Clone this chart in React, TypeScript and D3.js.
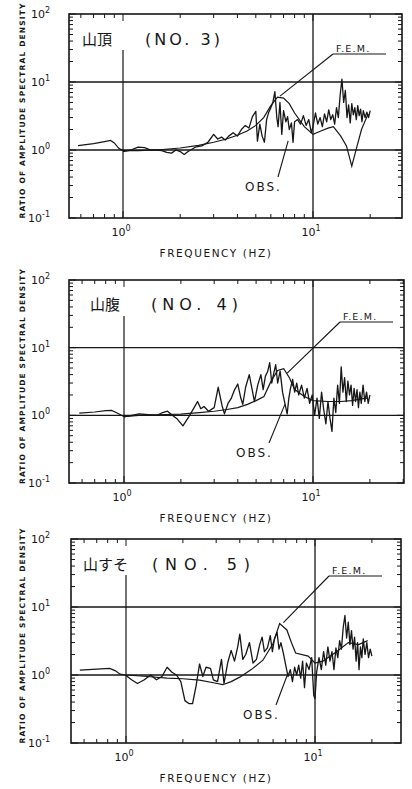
import React from "react";
import * as d3 from "d3";

type Pt = [number, number];

// frequency (Hz), ratio of amplitude spectral density
const fem3: Pt[] = [
  [0.58, 1.16], [0.7, 1.24], [0.8, 1.33], [0.86, 1.38], [0.9, 1.27], [0.95, 1.06],
  [1.0, 0.98], [1.2, 0.98], [1.5, 1.0], [2.0, 1.07], [2.5, 1.17], [3.0, 1.3],
  [3.5, 1.45], [4.0, 1.65], [4.5, 1.9], [5.0, 2.3], [5.5, 3.0], [6.0, 4.5],
  [6.5, 6.0], [7.0, 5.8], [7.5, 4.8], [8.0, 3.5], [9.0, 2.2], [10.0, 1.7],
  [11.0, 1.9], [12.0, 2.1], [12.8, 2.2], [14.0, 1.6], [15.0, 1.15], [16.0, 0.58],
  [17.0, 1.1], [18.0, 2.0], [19.5, 3.4],
];
const obs3: Pt[] = [
  [1.0, 0.95], [1.1, 1.0], [1.2, 1.1], [1.3, 1.08], [1.4, 1.0], [1.5, 1.0], [1.6, 0.98],
  [1.7, 0.92], [1.8, 0.9], [1.9, 1.0], [2.0, 0.95], [2.1, 0.86], [2.2, 0.95], [2.4, 1.1],
  [2.6, 1.15], [2.8, 1.3], [3.0, 1.7], [3.15, 1.45], [3.3, 1.55], [3.45, 1.4], [3.6, 1.6],
  [3.8, 1.8], [4.0, 1.6], [4.2, 2.0], [4.4, 2.3], [4.6, 2.1], [4.8, 3.1], [5.0, 3.7],
  [5.1, 1.35], [5.25, 2.4], [5.4, 1.6], [5.55, 1.3], [5.7, 2.8], [5.85, 3.6], [6.0, 4.2],
  [6.15, 5.0], [6.3, 7.2], [6.45, 3.0], [6.55, 2.2], [6.7, 5.0], [6.85, 1.7], [7.0, 3.8],
  [7.2, 2.6], [7.35, 3.1], [7.5, 2.0], [7.7, 2.5], [7.85, 1.3], [8.0, 2.6], [8.3, 2.8],
  [8.6, 2.4], [8.9, 3.2], [9.2, 2.3], [9.5, 2.8], [9.8, 1.8], [10.0, 2.2], [10.3, 3.5],
  [10.6, 2.4], [10.9, 3.0], [11.2, 2.2], [11.5, 3.4], [11.8, 2.6], [12.1, 3.9], [12.4, 2.8],
  [12.7, 3.3], [13.0, 2.4], [13.3, 4.2], [13.6, 3.0], [13.9, 6.5], [14.2, 11.0], [14.5, 5.0],
  [14.8, 7.5], [15.1, 3.0], [15.4, 4.6], [15.7, 2.5], [16.0, 4.8], [16.3, 3.3], [16.6, 4.2],
  [16.9, 2.8], [17.2, 4.5], [17.5, 3.2], [17.8, 4.0], [18.1, 2.6], [18.4, 3.8], [18.8, 3.0],
  [19.2, 3.6], [19.6, 3.0], [20.0, 3.8],
];

const fem4: Pt[] = [
  [0.58, 1.08], [0.7, 1.12], [0.8, 1.17], [0.86, 1.18], [0.92, 1.08], [1.0, 0.96],
  [1.2, 1.0], [1.5, 1.02], [2.0, 1.04], [2.5, 1.1], [3.0, 1.15], [3.5, 1.22],
  [4.0, 1.3], [4.5, 1.45], [5.0, 1.65], [5.5, 1.9], [6.0, 3.2], [6.5, 4.6],
  [7.0, 4.9], [7.5, 3.6], [8.0, 2.4], [9.0, 1.9], [10.0, 1.65], [12.0, 1.6],
  [14.0, 1.6], [16.0, 1.65], [18.0, 1.75], [19.5, 1.8],
];
const obs4: Pt[] = [
  [1.0, 0.95], [1.1, 1.0], [1.2, 1.05], [1.35, 1.02], [1.5, 1.0], [1.6, 1.1], [1.7, 1.15],
  [1.8, 1.0], [1.9, 0.9], [2.05, 0.7], [2.2, 0.95], [2.35, 1.3], [2.45, 1.6], [2.55, 1.25],
  [2.65, 1.35], [2.8, 1.15], [3.0, 1.3], [3.15, 2.6], [3.3, 1.4], [3.4, 1.05], [3.55, 1.5],
  [3.7, 1.8], [3.85, 2.4], [4.0, 2.9], [4.15, 1.8], [4.25, 1.45], [4.4, 2.6], [4.6, 4.0],
  [4.75, 2.5], [4.9, 1.6], [5.1, 2.8], [5.3, 4.0], [5.45, 2.4], [5.6, 3.8], [5.75, 4.4],
  [5.9, 6.0], [6.05, 3.0], [6.2, 4.2], [6.35, 5.6], [6.5, 3.0], [6.7, 4.5], [6.9, 2.2],
  [7.1, 1.5], [7.3, 1.05], [7.45, 1.8], [7.6, 2.5], [7.8, 3.4], [8.0, 2.2], [8.2, 3.0],
  [8.4, 2.0], [8.7, 2.8], [9.0, 1.8], [9.3, 2.5], [9.6, 1.5], [9.9, 2.0], [10.2, 1.0],
  [10.5, 1.8], [10.8, 0.9], [11.1, 2.2], [11.4, 1.2], [11.7, 0.75], [12.0, 1.6], [12.3, 0.9],
  [12.6, 0.58], [12.9, 1.8], [13.2, 1.1], [13.5, 2.8], [13.8, 1.5], [14.1, 5.2], [14.4, 2.2],
  [14.7, 3.6], [15.0, 1.6], [15.3, 3.2], [15.6, 2.0], [15.9, 2.8], [16.2, 1.4], [16.5, 2.5],
  [16.8, 1.6], [17.1, 2.4], [17.4, 1.3], [17.7, 2.2], [18.0, 1.5], [18.4, 2.8], [18.8, 1.6],
  [19.2, 2.2], [19.6, 1.5], [20.0, 2.0],
];

const fem5: Pt[] = [
  [0.57, 1.18], [0.7, 1.22], [0.82, 1.25], [0.88, 1.15], [0.93, 1.03], [1.0, 1.0],
  [1.3, 0.95], [1.65, 0.9], [2.0, 0.88], [2.45, 0.84], [2.9, 0.77], [3.25, 0.72],
  [3.6, 0.8], [4.0, 0.93], [4.6, 1.2], [5.3, 1.65], [6.0, 2.9], [6.5, 5.7],
  [7.1, 4.6], [7.5, 3.0], [7.9, 2.1], [9.2, 1.9], [10.0, 1.5], [11.0, 1.6],
  [13.0, 2.2], [15.0, 3.0], [17.0, 2.8], [19.0, 3.2],
];
const obs5: Pt[] = [
  [1.0, 0.98], [1.07, 0.85], [1.15, 0.75], [1.25, 0.85], [1.35, 1.0], [1.45, 0.85], [1.55, 0.95],
  [1.65, 1.3], [1.75, 1.1], [1.85, 1.0], [1.95, 0.8], [2.05, 0.42], [2.15, 0.38], [2.25, 0.38],
  [2.35, 0.7], [2.45, 1.45], [2.55, 0.95], [2.65, 1.3], [2.8, 1.25], [2.9, 0.85], [3.05, 0.8],
  [3.2, 1.7], [3.3, 0.75], [3.45, 1.5], [3.6, 2.3], [3.75, 1.6], [3.9, 2.6], [4.0, 4.0],
  [4.15, 1.7], [4.3, 2.0], [4.5, 3.0], [4.7, 1.5], [4.9, 1.7], [5.1, 2.8], [5.25, 3.6],
  [5.4, 2.2], [5.6, 2.5], [5.8, 3.8], [5.95, 2.2], [6.1, 3.4], [6.3, 4.2], [6.45, 2.4],
  [6.6, 3.0], [6.8, 2.1], [7.0, 1.4], [7.2, 0.95], [7.4, 1.2], [7.6, 0.8], [7.8, 1.3],
  [8.0, 1.0], [8.2, 1.4], [8.4, 0.9], [8.6, 1.6], [8.8, 0.65], [9.0, 1.5], [9.3, 1.2],
  [9.6, 1.8], [9.85, 0.5], [10.0, 0.45], [10.2, 1.1], [10.5, 1.8], [10.8, 1.2], [11.1, 2.2],
  [11.4, 1.4], [11.7, 2.6], [12.0, 1.6], [12.3, 2.2], [12.6, 1.2], [12.9, 2.5], [13.2, 1.8],
  [13.5, 3.2], [13.8, 2.4], [14.1, 5.0], [14.4, 7.5], [14.7, 3.5], [15.0, 6.0], [15.3, 2.8],
  [15.6, 4.5], [15.9, 2.4], [16.2, 3.6], [16.5, 1.6], [16.8, 3.0], [17.1, 1.2], [17.4, 2.6],
  [17.7, 1.8], [18.0, 3.4], [18.4, 2.0], [18.8, 3.0], [19.2, 1.8], [19.6, 2.4], [20.0, 1.9],
];

const stationNames = ["山頂", "山腹", "山すそ"];
const stationNos = ["(NO. 3)", "(NO. 4)", "(NO. 5)"];
const femTips: Pt[] = [[6.7, 6.2], [7.3, 4.2], [6.8, 5.9]];
const obsTips: Pt[] = [[7.4, 1.36], [7.1, 1.45], [7.2, 1.07]];
const yTickExp = [2, 1, 0, -1];
const xTickExp = [0, 1];

const INK = "#161616";

type Layout = {
  top: number; bottom: number; left: number; right: number; x1: number; x10: number;
  nameX: number; noX: number; noLen: number; titleDy: number;
  femX: number; femDy: number; obsX: number; obsDy: number;
};

const layouts: Layout[] = [
  { top: 14, bottom: 218, left: 69, right: 402, x1: 123, x10: 313, nameX: 82, noX: 145, noLen: 75, titleDy: 31, femX: 333, femDy: 38, obsX: 245, obsDy: 163 },
  { top: 280, bottom: 483, left: 69, right: 404, x1: 124, x10: 313, nameX: 90, noX: 151, noLen: 87, titleDy: 30, femX: 340, femDy: 40, obsX: 236, obsDy: 163 },
  { top: 539, bottom: 743, left: 71, right: 401, x1: 126, x10: 315, nameX: 83, noX: 152, noLen: 98, titleDy: 31, femX: 329, femDy: 35, obsX: 243, obsDy: 166 },
];

function Panel({ i, fem, obs }: { i: number; fem: Pt[]; obs: Pt[] }) {
  const L = layouts[i];
  const x = d3.scaleLog().domain([1, 10]).range([L.x1, L.x10]);
  const y = d3.scaleLog().domain([0.1, 100]).range([L.bottom, L.top]);
  const xs = d3.scaleLog().domain([x.invert(L.left), x.invert(L.right)]);
  const line = d3.line<Pt>().x((d) => x(d[0])).y((d) => y(d[1]));
  const clipId = `clip${i}`;
  const yTicks = y.ticks();
  const xTicks = xs.ticks();
  const isMajor = (v: number) => Math.abs(Math.log10(v) - Math.round(Math.log10(v))) < 1e-6;
  const mid = (L.top + L.bottom) / 2 - 5;
  const ft = femTips[i];
  const ot = obsTips[i];
  const femLineY = L.top + L.femDy + 2;
  const obsTop = L.top + L.obsDy - 13;

  return (
    <g>
      <defs>
        <clipPath id={clipId}>
          <rect x={L.left} y={L.top} width={L.right - L.left} height={L.bottom - L.top} />
        </clipPath>
      </defs>
      {/* grid */}
      <line x1={L.left} x2={L.right} y1={y(10)} y2={y(10)} stroke={INK} strokeWidth={1.3} />
      <line x1={L.left} x2={L.right} y1={y(1)} y2={y(1)} stroke={INK} strokeWidth={1.3} />
      <line x1={x(1)} x2={x(1)} y1={L.top + 36} y2={L.bottom} stroke={INK} strokeWidth={1.2} />
      <line x1={x(10)} x2={x(10)} y1={L.top} y2={L.bottom} stroke={INK} strokeWidth={1.3} />
      {/* ticks */}
      {yTicks.map((t, k) => (
        <g key={"y" + k}>
          <line x1={L.left} x2={L.left + (isMajor(t) ? 7 : 4)} y1={y(t)} y2={y(t)} stroke={INK} strokeWidth={1} />
          <line x1={L.right} x2={L.right - (isMajor(t) ? 7 : 4)} y1={y(t)} y2={y(t)} stroke={INK} strokeWidth={1} />
        </g>
      ))}
      {xTicks.map((t, k) => (
        <g key={"x" + k}>
          <line x1={x(t)} x2={x(t)} y1={L.top} y2={L.top + (isMajor(t) ? 7 : 4)} stroke={INK} strokeWidth={1} />
          <line x1={x(t)} x2={x(t)} y1={L.bottom} y2={L.bottom - (isMajor(t) ? 7 : 4)} stroke={INK} strokeWidth={1} />
        </g>
      ))}
      <rect x={L.left} y={L.top} width={L.right - L.left} height={L.bottom - L.top} fill="none" stroke={INK} strokeWidth={1.6} />
      {/* curves */}
      <g clipPath={`url(#${clipId})`}>
        <path d={line(fem) ?? ""} fill="none" stroke={INK} strokeWidth={1.2} />
        <path d={line(obs) ?? ""} fill="none" stroke={INK} strokeWidth={1.3} strokeLinejoin="round" />
      </g>
      {/* tick labels */}
      {yTickExp.map((e) => (
        <text key={"yl" + e} x={50} y={y(Math.pow(10, e)) + 4} textAnchor="end" fontSize={11} fontFamily="DejaVu Sans, sans-serif" fill={INK}>
          10<tspan dy={-5} fontSize={8}>{e}</tspan>
        </text>
      ))}
      {xTickExp.map((e) => (
        <text key={"xl" + e} x={x(Math.pow(10, e)) - 2} y={L.bottom + 18} textAnchor="middle" fontSize={11} fontFamily="DejaVu Sans, sans-serif" fill={INK}>
          10<tspan dy={-5} fontSize={8}>{e}</tspan>
        </text>
      ))}
      <text x={216} y={L.bottom + 39} textAnchor="middle" fontSize={10.5} letterSpacing={1.6} fontFamily="DejaVu Sans, sans-serif" fill={INK}>
        FREQUENCY  (HZ)
      </text>
      <text transform={`translate(25,${mid}) rotate(-90)`} textAnchor="middle" fontSize={7.5} fontWeight="bold" textLength={215} lengthAdjust="spacing" fontFamily="DejaVu Sans, sans-serif" fill={INK}>
        RATIO OF AMPLITUDE SPECTRAL DENSITY
      </text>
      {/* title */}
      <text x={L.nameX} y={L.top + L.titleDy} fontSize={15} fontFamily="Noto Sans CJK JP, sans-serif" fill={INK}>
        {stationNames[i]}
      </text>
      <text x={L.noX} y={L.top + L.titleDy} fontSize={16} textLength={L.noLen} lengthAdjust="spacing" fontFamily="DejaVu Sans, sans-serif" fill={INK}>
        {stationNos[i]}
      </text>
      {/* F.E.M. annotation */}
      <text x={L.femX + 3} y={L.top + L.femDy} fontSize={9.5} letterSpacing={1.2} fontFamily="DejaVu Sans, sans-serif" fill={INK}>
        F.E.M.
      </text>
      <line x1={L.femX} x2={L.femX + 53} y1={femLineY} y2={femLineY} stroke={INK} strokeWidth={1.1} />
      <line x1={L.femX} y1={femLineY} x2={x(ft[0])} y2={y(ft[1])} stroke={INK} strokeWidth={1.1} />
      {/* OBS. annotation */}
      <text x={L.obsX} y={L.top + L.obsDy + 14} fontSize={12} letterSpacing={2} fontFamily="DejaVu Sans, sans-serif" fill={INK}>
        OBS.
      </text>
      <line x1={L.obsX + 33} y1={obsTop + 13} x2={x(ot[0])} y2={y(ot[1])} stroke={INK} strokeWidth={1.1} />
    </g>
  );
}

export default function App() {
  return (
    <svg width={412} height={789} viewBox="0 0 412 789" style={{ position: "absolute", left: 0, top: 0, background: "#fff" }}>
      <rect width={412} height={789} fill="#fff" />
      <Panel i={0} fem={fem3} obs={obs3} />
      <Panel i={1} fem={fem4} obs={obs4} />
      <Panel i={2} fem={fem5} obs={obs5} />
    </svg>
  );
}
